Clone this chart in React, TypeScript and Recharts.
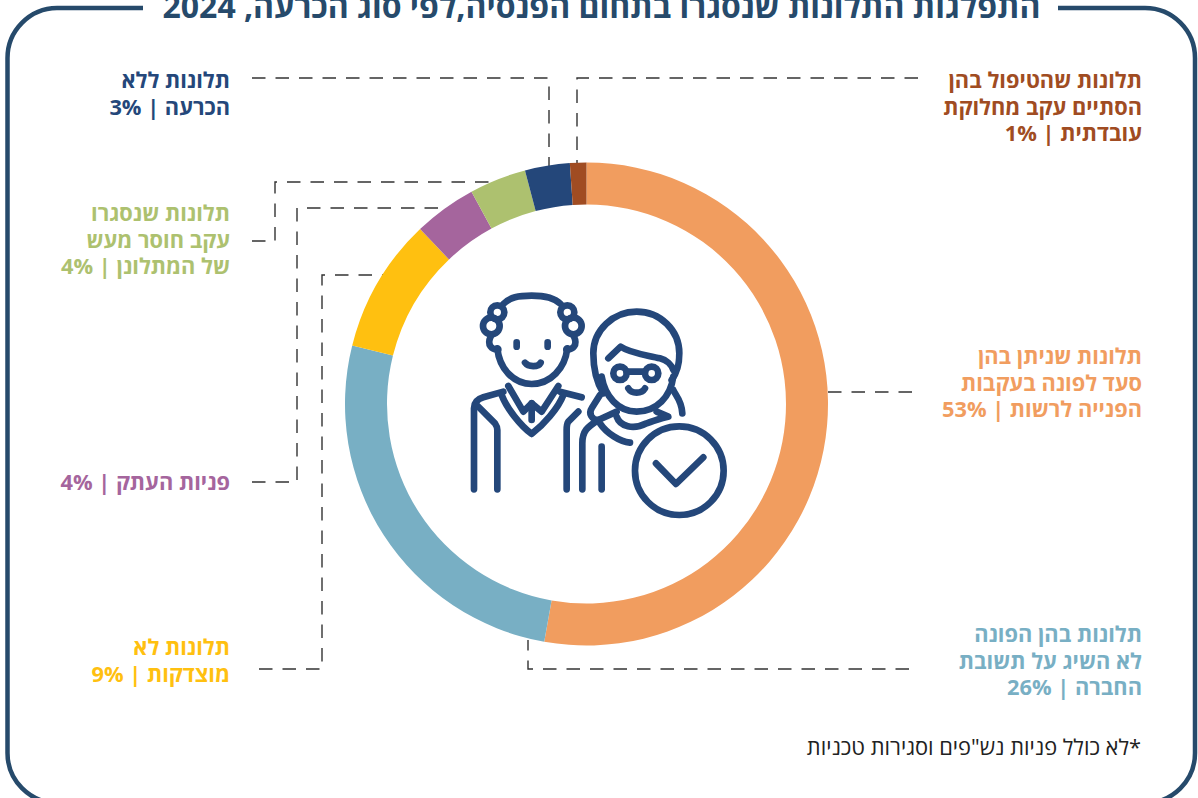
import { Pie, PieChart } from "recharts";

const title = "התפלגות התלונות שנסגרו בתחום הפנסיה,לפי סוג הכרעה, 2024";
const footnote = '*לא כולל פניות נש"פים וסגירות טכניות';

// clockwise from 12 o'clock
const categories = [
  "סעד לפונה",
  "ללא תשובת החברה",
  "לא מוצדקות",
  "פניות העתק",
  "חוסר מעש",
  "ללא הכרעה",
  "מחלוקת עובדתית",
];
const values = [52.8, 26.1, 9, 4.2, 3.8, 3, 1.1];
const labelLines = [
  ["תלונות שניתן בהן", "סעד לפונה בעקבות", "הפנייה לרשות"],
  ["תלונות בהן הפונה", "לא השיג על תשובת", "החברה"],
  ["תלונות לא", "מוצדקות"],
  ["פניות העתק"],
  ["תלונות שנסגרו", "עקב חוסר מעש", "של המתלונן"],
  ["תלונות ללא", "הכרעה"],
  ["תלונות שהטיפול בהן", "הסתיים עקב מחלוקת", "עובדתית"],
];

const colors = ["#F19D5F", "#78AFC4", "#FFC010", "#A5659D", "#ADC16F", "#24477A", "#A04C22"];
const FRAME = "#264A6B";
const ICON = "#24477A";

// right edge and first baseline of each label block
const labelAnchors = [
  [1142, 364],
  [1142, 642],
  [230, 655],
  [230, 490],
  [230, 221],
  [230, 88],
  [1142, 88],
];

const leaders = [
  "M828 392H913",
  "M909 669H528V640",
  "M259 669H322V275H385",
  "M252 482H297V208H445",
  "M252 241H275V182H490",
  "M252 78H549V166",
  "M918 78H577V164",
];

const data = categories.map((name, i) => ({ name, value: values[i], fill: colors[i] }));
const FONT = "'Open Sans', 'Noto Sans', sans-serif";

function Icon() {
  return (
    <g
      transform="translate(460 280) scale(0.3333)"
      fill="none"
      stroke={ICON}
      strokeWidth={20}
      strokeLinecap="round"
      strokeLinejoin="round"
    >
      {/* man */}
      <path d="M130 72C150 52 175 47 215 47C260 47 285 55 302 72" />
      <circle cx={112} cy={97} r={21} />
      <circle cx={94} cy={138} r={25} />
      <circle cx={322} cy={97} r={21} />
      <circle cx={340} cy={138} r={25} />
      <path d="M92 170C80 195 95 210 115 208" />
      <path d="M342 170C354 195 339 210 319 208" />
      <path d="M112 205C118 265 160 312 215 312C272 312 315 265 322 205" />
      <path d="M170 187V200M263 187V200" />
      <path d="M195 248C205 262 235 262 242 248" />
      <path d="M130 335L70 352C50 358 42 370 42 385V628" />
      <path d="M300 335L365 352" />
      <path d="M50 375L105 430C112 440 112 445 112 450V628" />
      <path d="M355 395L325 425C320 432 320 440 320 450V628" />
      <path d="M125 345C140 385 180 435 215 462C250 435 295 385 310 345" />
      <path d="M145 318L190 395L215 370L245 395L295 318" />
      <path d="M215 370V420" />
      {/* woman */}
      <path d="M430 340C405 300 400 260 400 220C400 150 460 95 530 95C600 95 658 150 658 220C658 260 650 280 635 300" />
      <path d="M425 290C435 350 475 395 530 395C590 395 632 350 640 290" />
      <path d="M445 235L482 200C510 220 560 225 600 235C620 240 635 255 640 270" />
      <circle cx={480} cy={280} r={20} />
      <circle cx={575} cy={280} r={20} />
      <path d="M500 275H555" />
      <path d="M505 325C515 342 545 342 555 325" />
      <path d="M640 330C645 345 665 360 667 400" />
      <path d="M420 345L395 385C385 400 395 420 415 420L470 395" />
      <path d="M415 420C385 440 367 450 367 490V628" />
      <path d="M425 500V628" />
      <path d="M470 410C480 440 520 450 560 430C590 420 610 412 625 410L590 395" />
      <path d="M420 430C440 460 480 485 510 488" />
      {/* badge */}
      <circle cx={658} cy={572} r={133} fill="#fff" />
      <path d="M588 550L648 612L730 532" />
    </g>
  );
}

export default function App() {
  return (
    <div style={{ position: "absolute", left: 0, top: 0, width: 1198, height: 798, overflow: "hidden", background: "#fff" }}>
      <PieChart width={1198} height={798} margin={{ top: 0, right: 0, bottom: 0, left: 0 }}>
        <Pie
          data={data}
          dataKey="value"
          nameKey="name"
          cx={586.5}
          cy={404}
          outerRadius={241.5}
          innerRadius={199.5}
          startAngle={90}
          endAngle={-270}
          stroke="none"
          isAnimationActive={false}
        />
        <path
          d="M143 8H57A50 50 0 0 0 7.5 58V753A50 50 0 0 0 57 803H1145A50 50 0 0 0 1195 753V58A50 50 0 0 0 1145 8H1058"
          fill="none"
          stroke={FRAME}
          strokeWidth={4.5}
        />
        <text
          x={601.5}
          y={18}
          direction="rtl"
          textAnchor="middle"
          fontFamily={FONT}
          fontWeight={700}
          fontSize={32}
          fill={FRAME}
        >
          {title}
        </text>
        {leaders.map((d) => (
          <path key={d} d={d} fill="none" stroke="#333" strokeWidth={1.4} strokeDasharray="13.5 10" />
        ))}
        {labelLines.map((lines, i) => (
          <text
            key={categories[i]}
            direction="rtl"
            textAnchor="start"
            fontFamily={FONT}
            fontWeight={700}
            fontSize={21.8}
            fill={colors[i]}
          >
            {lines.map((line, j) => (
              <tspan key={line} x={labelAnchors[i][0]} y={labelAnchors[i][1] + j * 26.6}>
                {j === lines.length - 1 ? `${line} | ${Math.round(values[i])}%` : line}
              </tspan>
            ))}
          </text>
        ))}
        <text x={1141} y={755} direction="rtl" textAnchor="start" fontFamily={FONT} fontSize={21.8} fill="#222">
          {footnote}
        </text>
        <Icon />
      </PieChart>
    </div>
  );
}
